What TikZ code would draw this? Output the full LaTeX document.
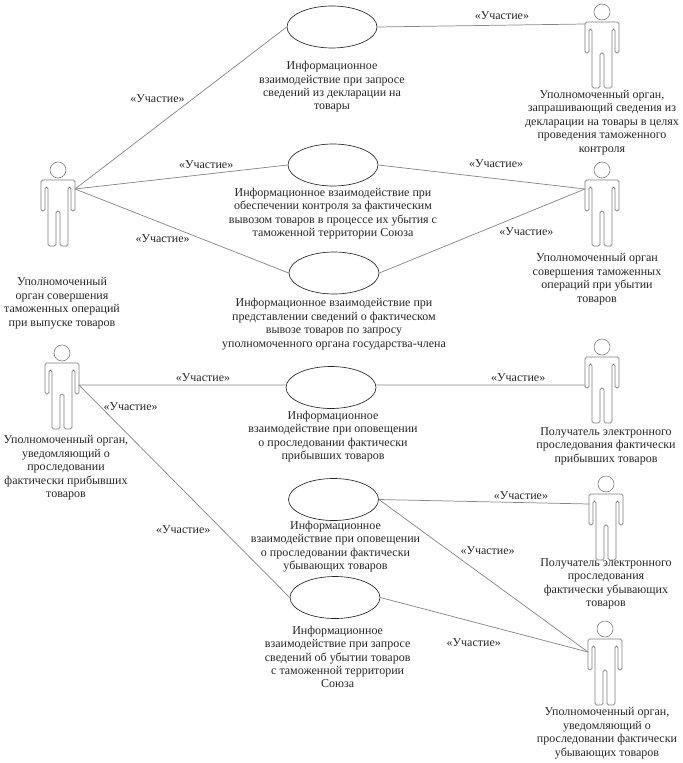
\documentclass[tikz,border=0pt]{standalone}
\usepackage{fontspec}
\setmainfont{Liberation Serif}
\definecolor{linkGray}{RGB}{135, 135, 135}
\definecolor{actorGray}{RGB}{125, 125, 125}
\usetikzlibrary{shapes.geometric, positioning}

\begin{document}
\begin{tikzpicture}[x=0.75pt, y=-0.75pt,
  usecase/.style={ellipse, draw=black!85, line width=0.5pt, minimum width=67.5pt, minimum height=31.5pt},
  txt/.style={align=center, inner sep=0pt, text=black!85, font=\fontsize{9}{10.1}\selectfont},
  part/.style={inner sep=0pt, text=black!85, font=\fontsize{9}{10.1}\selectfont},
  link/.style={draw=linkGray, line width=0.55pt},
  actor/.pic={
    \draw[actorGray, line width=0.45pt] (0,0) circle (6pt);
    \draw[actorGray, line width=0.45pt, rounded corners=1.2pt]
      (0,10) -- (17,10) -- (17,41) -- (13,41) -- (13,17) -- (10,17) -- (10,76) -- (2,76) -- (2,41)
      -- (-2,41) -- (-2,76) -- (-10,76) -- (-10,17) -- (-13,17) -- (-13,41) -- (-17,41) -- (-17,10) -- cycle;
    \coordinate (-l) at (-17,20);
    \coordinate (-r) at (17,20);
  },
]
  \useasboundingbox (0,0) rectangle (682,763);

  \pic (left1) at (58,170) {actor};
  \pic (left2) at (62,353) {actor};
  \pic (right1) at (602,12) {actor};
  \pic (right2) at (602,170) {actor};
  \pic (right3) at (602,347) {actor};
  \pic (right4) at (606,484) {actor};
  \pic (right5) at (605,629) {actor};

  \node[usecase] (uc1) at (332,27) {};
  \node[usecase] (uc2) at (333,165) {};
  \node[usecase] (uc3) at (334,273) {};
  \node[usecase] (uc4) at (331,387.5) {};
  \node[usecase] (uc5) at (333.5,499.5) {};
  \node[usecase] (uc6) at (335,597.5) {};

  \node[txt, below=9.5pt of uc1] (t1) {Информационное\\взаимодействие при запросе\\сведений из декларации на\\товары};
  \node[txt, below=1pt of uc2] (t2) {Информационное взаимодействие при\\обеспечении контроля за фактическим\\вывозом товаров в процессе их убытия с\\таможенной территории Союза};
  \node[txt, below=3pt of uc3] (t3) {Информационное взаимодействие при\\представлении сведений о фактическом\\вывозе товаров по запросу\\уполномоченного органа государства-члена};
  \node[txt, below=1.5pt of uc4, xshift=1.5pt] (t4) {Информационное\\взаимодействие при оповещении\\о проследовании фактически\\прибывших товаров};
  \node[txt, below=0pt of uc5, xshift=1.5pt] (t5) {Информационное\\взаимодействие при оповещении\\о проследовании фактически\\убывающих товаров};
  \node[txt, below=5pt of uc6, xshift=2pt] (t6) {Информационное\\взаимодействие при запросе\\сведений об убытии товаров\\с таможенной территории\\Союза};

  \node[txt] (n1) at (62,303) {Уполномоченный\\орган совершения\\таможенных операций\\при выпуске товаров};
  \node[txt] (n2) at (66,468) {Уполномоченный орган,\\уведомляющий о\\проследовании\\фактически прибывших\\товаров};
  \node[txt] (n3) at (602,122.5) {Уполномоченный орган,\\запрашивающий сведения из\\декларации на товары в целях\\проведения таможенного\\контроля};
  \node[txt] (n4) at (597,279) {Уполномоченный орган\\совершения таможенных\\операций при убытии\\товаров};
  \node[txt] (n5) at (606,446) {Получатель электронного\\проследования фактически\\прибывших товаров};
  \node[txt] (n6) at (606,584) {Получатель электронного\\проследования\\фактически убывающих\\товаров};
  \node[txt] (n7) at (607,733) {Уполномоченный орган,\\уведомляющий о\\проследовании фактически\\убывающих товаров};

  \draw[link] ([yshift=.75pt]left1-r) -- node[part, pos=.39, above=17pt] {«Участие»} (uc1.west);
  \draw[link] ([yshift=.75pt]left1-r) -- node[part, pos=.617, above=4pt] {«Участие»} (uc2.west);
  \draw[link] ([yshift=.75pt]left1-r) -- node[part, pos=.41, below=8pt] {«Участие»} (uc3.west);
  \draw[link] (uc1.east) -- node[part, pos=.6, above=4pt] {«Участие»} ([yshift=6pt]right1-l);
  \draw[link] (uc2.east) -- node[part, pos=.57, above=8pt] {«Участие»} ([yshift=.75pt]right2-l);
  \draw[link] (uc3.east) -- node[part, pos=.715, below=11pt] {«Участие»} ([yshift=.75pt]right2-l);
  \draw[link] ([yshift=-9pt]left2-r) -- node[part, pos=.6, above=2pt] {«Участие»} ([yshift=1.9pt]uc4.west);
  \draw[link] ([yshift=-9pt]left2-r) -- node[part, pos=.245, above=19.5pt] {«Участие»} node[part, pos=.495, below=26pt] {«Участие»} (uc6.west);
  \draw[link] ([yshift=1.9pt]uc4.east) -- node[part, pos=.68, above=2pt] {«Участие»} ([yshift=-13.5pt]right3-l);
  \draw[link] (uc5.east) -- node[part, pos=.676, above=2pt] {«Участие»} (right4-l);
  \draw[link] (uc5.east) -- node[part, pos=.52, above=18pt] {«Участие»} ([yshift=-2.25pt]right5-l);
  \draw[link] (uc6.east) -- node[part, pos=.45, below=12pt] {«Участие»} ([yshift=-2.25pt]right5-l);
\end{tikzpicture}
\end{document}
